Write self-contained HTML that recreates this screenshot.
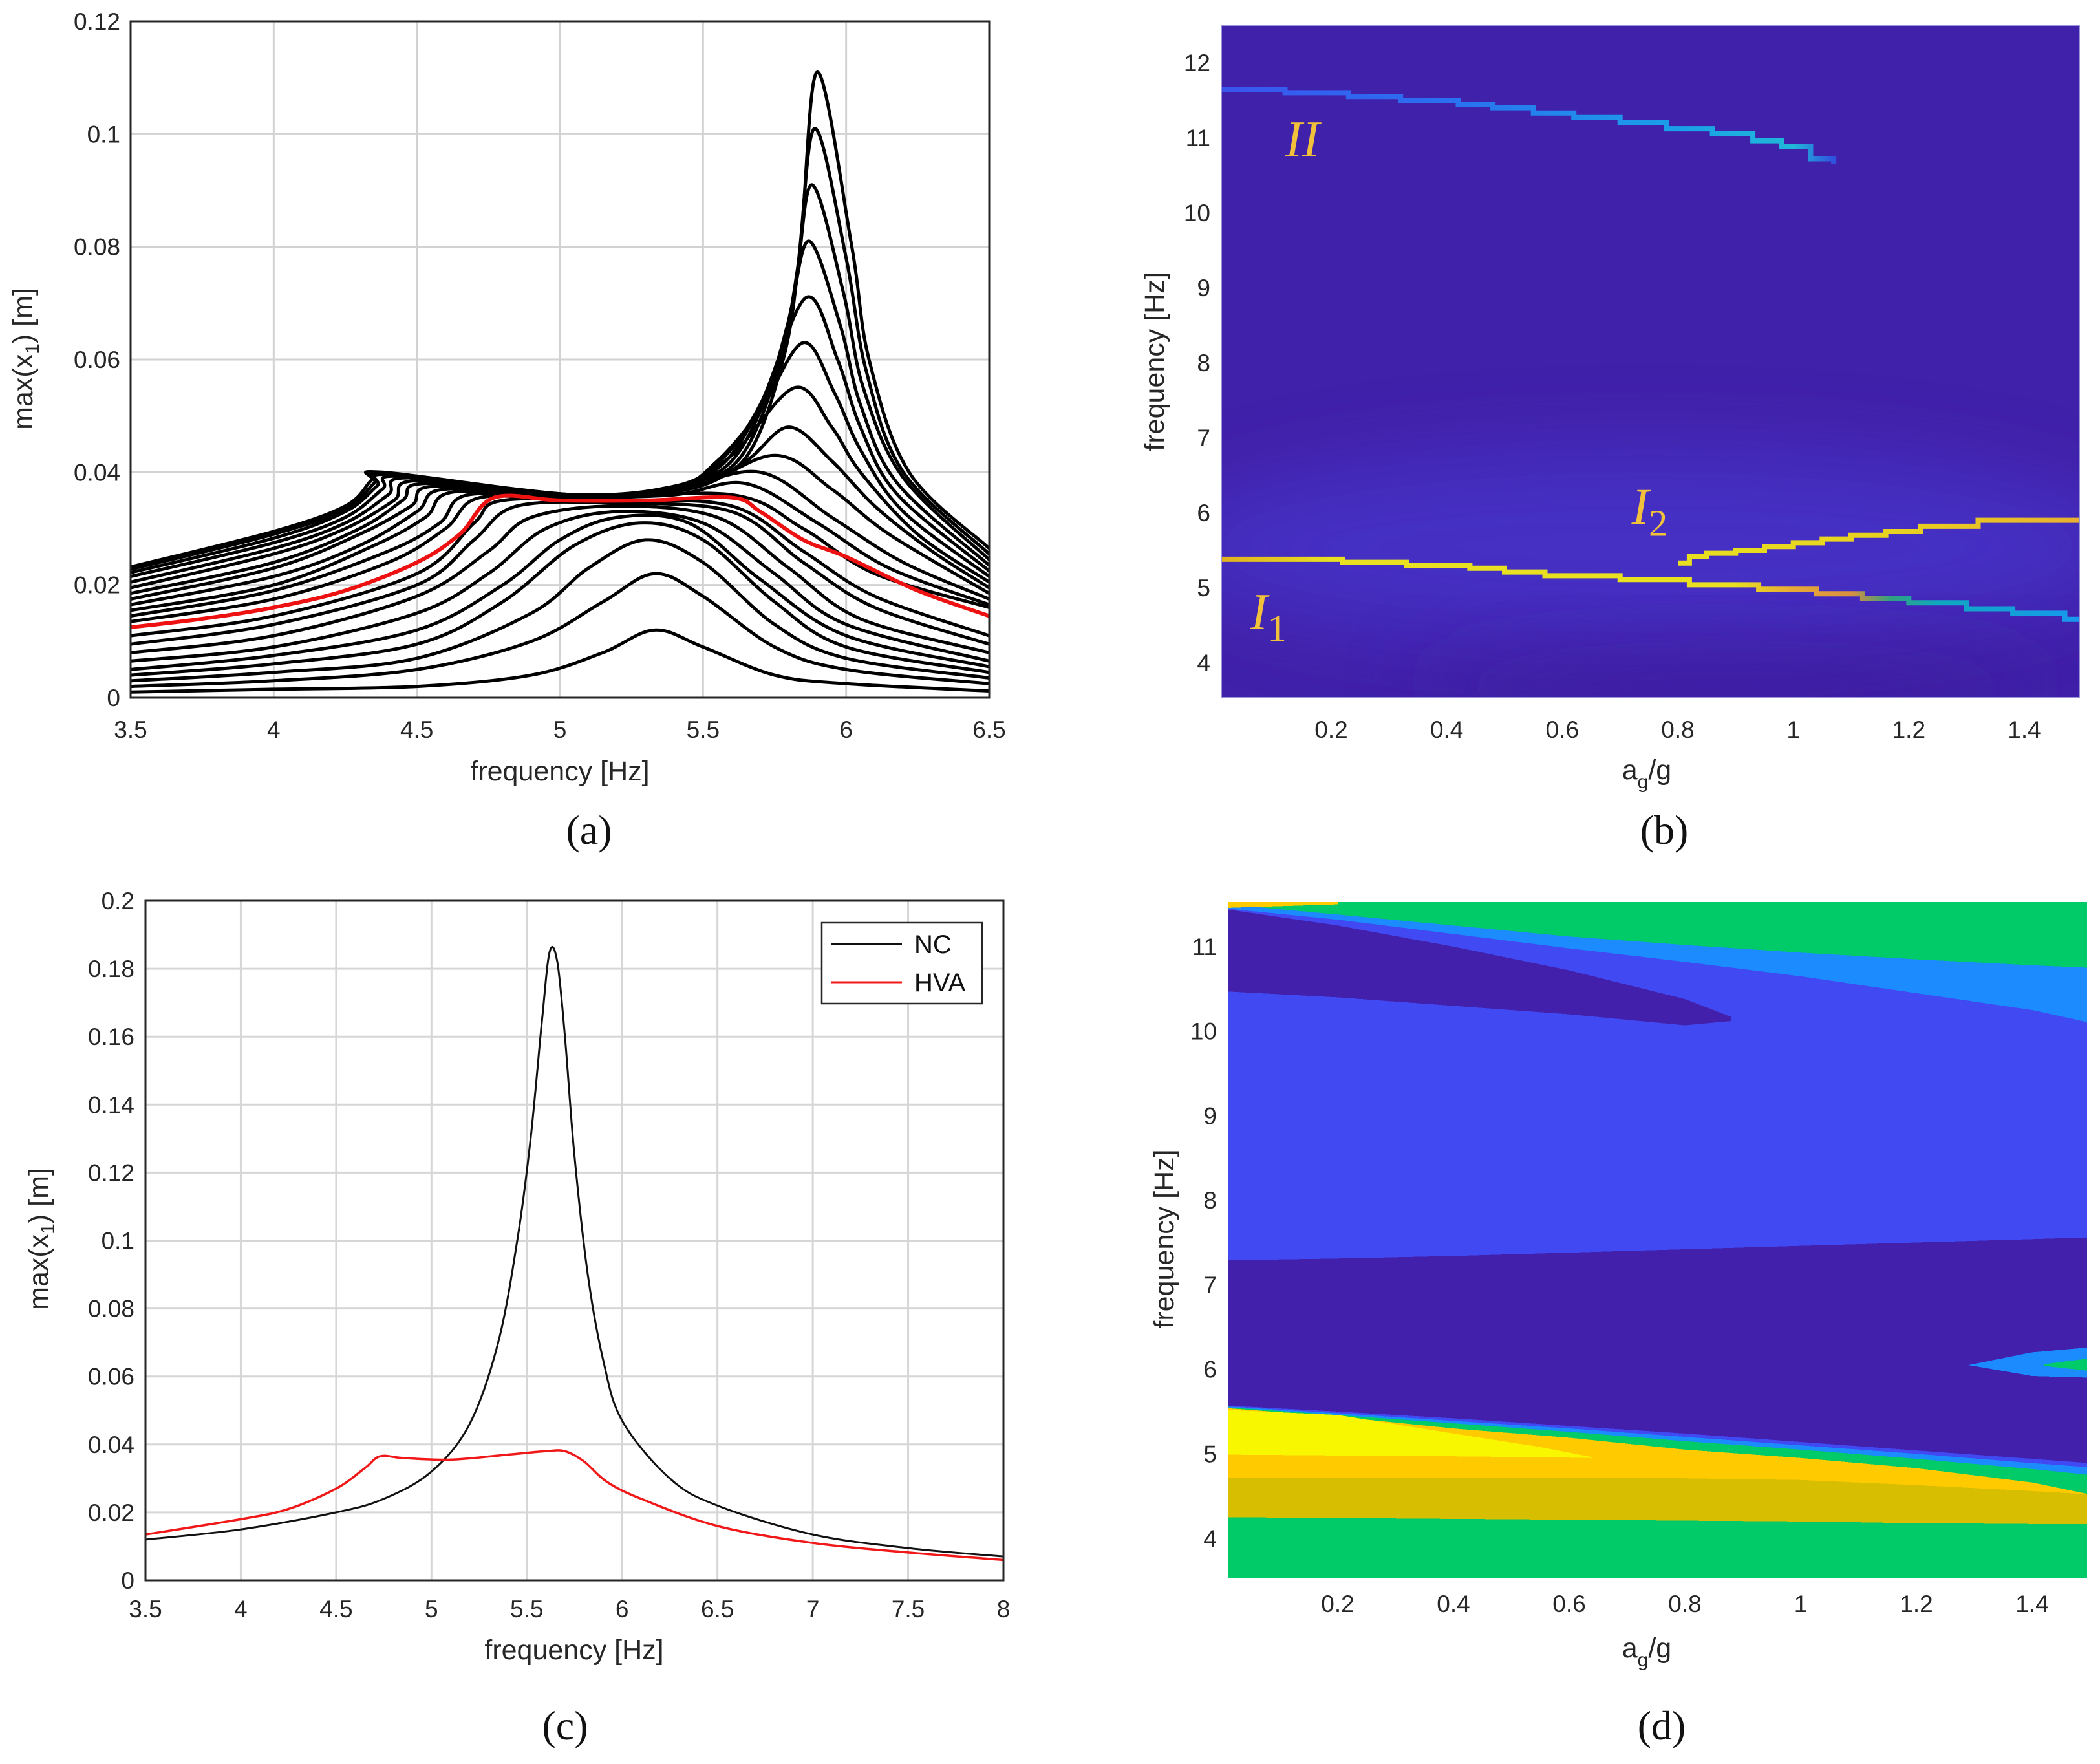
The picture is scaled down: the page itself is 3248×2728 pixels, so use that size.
<!DOCTYPE html>
<html><head><meta charset="utf-8"><style>
html,body{margin:0;padding:0;background:#fff;}
svg{display:block;font-family:"Liberation Sans",sans-serif;}
</style></head><body>
<svg id="fig" xmlns="http://www.w3.org/2000/svg" width="3248" height="2728" viewBox="0 0 3248 2728">
<defs>
<filter id="blurB" x="-50%" y="-50%" width="200%" height="200%"><feGaussianBlur stdDeviation="60"/></filter>
<clipPath id="clipA"><rect x="202" y="33" width="1328" height="1046"/></clipPath>
<clipPath id="clipB"><rect x="1889" y="39" width="1327" height="1040"/></clipPath>
<clipPath id="clipC"><rect x="225" y="1393" width="1327" height="1051"/></clipPath>
<clipPath id="clipD"><rect x="1899" y="1395" width="1329" height="1045"/></clipPath>
</defs>
<text x="911" y="1305" font-family="Liberation Serif,serif" font-size="64" text-anchor="middle" fill="#111">(a)</text>
<text x="2574" y="1305" font-family="Liberation Serif,serif" font-size="64" text-anchor="middle" fill="#111">(b)</text>
<text x="874" y="2690" font-family="Liberation Serif,serif" font-size="64" text-anchor="middle" fill="#111">(c)</text>
<text x="2570" y="2690" font-family="Liberation Serif,serif" font-size="64" text-anchor="middle" fill="#111">(d)</text>
</svg>
<script>
// ===== Panel (a) data =====
const aXTicks = [3.5,4,4.5,5,5.5,6,6.5];
const aXTickLabels = ["3.5","4","4.5","5","5.5","6","6.5"];
const aYTicks = [0,0.02,0.04,0.06,0.08,0.1,0.12];
const aYTickLabels = ["0","0.02","0.04","0.06","0.08","0.1","0.12"];
const aCurveA1 = [[3.5,.001],[4.0,.0015],[4.5,.002],[4.9,.004],[5.15,.008],[5.33,.012],[5.5,.009],[5.75,.004],[6.0,.0025],[6.5,.0012]];
const aCurveA2 = [[3.5,.002],[4,.003],[4.5,.005],[4.9,.010],[5.15,.017],[5.33,.022],[5.5,.018],[5.75,.009],[6,.005],[6.5,.0025]];
const aCurveA3 = [[3.5,.003],[4,.0045],[4.5,.007],[4.9,.015],[5.1,.023],[5.3,.028],[5.5,.024],[5.75,.013],[6,.007],[6.5,.0035]];
const aCurveA4 = [[3.5,.004],[4,.006],[4.5,.0095],[4.8,.017],[5.05,.027],[5.28,.031],[5.5,.028],[5.75,.017],[6,.009],[6.5,.0045]];
const aCurveB1 = [[3.5,.005],[4,.0075],[4.5,.012],[4.8,.020],[5.0,.028],[5.2,.032],[5.45,.031],[5.7,.021],[6,.011],[6.5,.0055]];
const aCurveB2 = [[3.5,.0065],[4,.009],[4.5,.015],[4.75,.022],[4.95,.030],[5.2,.033],[5.5,.031],[5.75,.022],[6,.013],[6.5,.0065]];
const aCurveB3 = [[3.5,.008],[4,.011],[4.5,.018],[4.75,.026],[4.9,.032],[5.2,.034],[5.55,.032],[5.8,.023],[6.05,.014],[6.5,.008]];
const aCurveB4 = [[3.5,.0095],[4,.013],[4.5,.020],[4.7,.028],[4.85,.034],[5.2,.0345],[5.6,.033],[5.85,.024],[6.1,.016],[6.5,.0095]];
const aCurveB5 = [[3.5,.011],[4,.0145],[4.5,.022],[4.7,.031],[4.8,.035],[5.2,.035],[5.6,.034],[5.85,.026],[6.1,.018],[6.5,.011]];
const aCurveC1 = [[3.5,.0135],[4,.0175],[4.4,.024],[4.6,.030],[4.72,.0355],[5.05,.0352],[5.6,.036],[5.85,.030],[6.1,.022],[6.5,.016]];
const aCurveC2 = [[3.5,.0145],[4,.019],[4.4,.026],[4.58,.031],[4.68,.036],[5.05,.0355],[5.4,.036],[5.65,.038],[5.9,.031],[6.15,.023],[6.5,.0165]];
const aCurveC3 = [[3.5,.0155],[4,.020],[4.35,.027],[4.53,.032],[4.63,.0365],[5.05,.0355],[5.4,.037],[5.7,.040],[5.95,.032],[6.2,.024],[6.5,.0175]];
const aCurveC4 = [[3.5,.0165],[4,.0215],[4.3,.027],[4.5,.033],[4.6,.037],[5.05,.0355],[5.45,.037],[5.75,.043],[5.95,.037],[6.15,.029],[6.5,.0185]];
const aCurveC5 = [[3.5,.0175],[4,.023],[4.3,.029],[4.48,.034],[4.56,.0375],[5.05,.0358],[5.45,.037],[5.65,.042],[5.8,.048],[5.95,.042],[6.1,.034],[6.3,.026],[6.5,.0195]];
const aCurveC6 = [[3.5,.0185],[4,.024],[4.3,.030],[4.45,.035],[4.53,.038],[5.05,.036],[5.4,.037],[5.6,.043],[5.82,.055],[5.95,.048],[6.05,.040],[6.25,.029],[6.5,.0205]];
const aCurveC7 = [[3.5,.0195],[4,.0255],[4.25,.030],[4.42,.035],[4.5,.0385],[5.05,.036],[5.4,.0372],[5.55,.042],[5.7,.051],[5.85,.063],[5.96,.054],[6.05,.044],[6.2,.033],[6.5,.0215]];
const aCurveC8 = [[3.5,.0205],[4,.0265],[4.25,.031],[4.4,.036],[4.47,.039],[5.05,.036],[5.4,.0375],[5.56,.042],[5.7,.052],[5.86,.071],[5.97,.060],[6.05,.048],[6.18,.036],[6.5,.0225]];
const aCurveC9 = [[3.5,.0215],[4,.0275],[4.25,.032],[4.38,.037],[4.44,.0393],[5.05,.036],[5.4,.0375],[5.58,.042],[5.72,.054],[5.8,.067],[5.87,.081],[5.98,.066],[6.05,.052],[6.18,.038],[6.5,.0235]];
const aCurveC10 = [[3.5,.0222],[4,.0283],[4.25,.033],[4.36,.0375],[4.41,.0396],[5.05,.036],[5.4,.0375],[5.6,.042],[5.74,.056],[5.82,.072],[5.88,.091],[5.99,.072],[6.06,.055],[6.2,.039],[6.5,.0245]];
const aCurveC11 = [[3.5,.0228],[4,.029],[4.25,.0335],[4.35,.038],[4.39,.0398],[5.05,.036],[5.4,.0375],[5.62,.042],[5.76,.058],[5.83,.076],[5.89,.101],[6.0,.078],[6.07,.058],[6.2,.04],[6.5,.0255]];
const aCurveC12 = [[3.5,.0232],[4,.0295],[4.25,.034],[4.34,.0385],[4.38,.040],[5.05,.036],[5.4,.0375],[5.64,.042],[5.78,.06],[5.84,.08],[5.9,.111],[6.02,.08],[6.08,.06],[6.22,.04],[6.5,.0265]];
const aRedCurve = [[3.5,.0125],[3.75,.014],[4,.016],[4.25,.019],[4.5,.024],[4.65,.029],[4.77,.0355],[5.0,.035],[5.3,.035],[5.6,.0355],[5.7,.033],[5.85,.028],[6.0,.025],[6.25,.019],[6.5,.0145]];
const aBlackCurves = [aCurveA1,aCurveA2,aCurveA3,aCurveA4,aCurveB1,aCurveB2,aCurveB3,aCurveB4,aCurveB5,aCurveC1,aCurveC2,aCurveC3,aCurveC4,aCurveC5,aCurveC6,aCurveC7,aCurveC8,aCurveC9,aCurveC10,aCurveC11,aCurveC12];

// ===== Panel (b) data =====
const bXTicks = [0.2,0.4,0.6,0.8,1.0,1.2,1.4];
const bXTickLabels = ["0.2","0.4","0.6","0.8","1","1.2","1.4"];
const bYTicks = [4,5,6,7,8,9,10,11,12];
const bYTickLabels = ["4","5","6","7","8","9","10","11","12"];
const bIIag = [0.01,0.12,0.23,0.32,0.42,0.48,0.55,0.62,0.7,0.78,0.86,0.93,0.98,1.03,1.07];
const bIIfreq = [11.64,11.6,11.55,11.5,11.44,11.4,11.33,11.27,11.2,11.12,11.06,10.96,10.88,10.72,10.65];
const bI1ag = [0.01,0.22,0.33,0.44,0.5,0.57,0.7,0.82,0.94,1.04,1.12,1.2,1.3,1.38,1.47,1.5];
const bI1freq = [5.38,5.34,5.3,5.26,5.21,5.16,5.11,5.04,4.98,4.92,4.86,4.8,4.72,4.66,4.58,4.55];
const bI2ag = [0.8,0.82,0.85,0.9,0.95,1.0,1.05,1.1,1.16,1.22,1.32,1.5];
const bI2freq = [5.33,5.42,5.46,5.5,5.55,5.6,5.65,5.7,5.75,5.82,5.9,5.9];

// ===== Panel (c) data =====
const cXTicks = [3.5,4,4.5,5,5.5,6,6.5,7,7.5,8];
const cXTickLabels = ["3.5","4","4.5","5","5.5","6","6.5","7","7.5","8"];
const cYTicks = [0,0.02,0.04,0.06,0.08,0.1,0.12,0.14,0.16,0.18,0.2];
const cYTickLabels = ["0","0.02","0.04","0.06","0.08","0.1","0.12","0.14","0.16","0.18","0.2"];
const cNCfreq = [3.5,4,4.5,4.75,5,5.2,5.35,5.45,5.52,5.58,5.62,5.66,5.7,5.75,5.82,5.9,6,6.25,6.5,7,7.5,8];
const cNCamp = [.012,.015,.020,.024,.032,.046,.07,.10,.13,.165,.185,.182,.16,.125,.09,.065,.047,.03,.022,.0135,.0095,.007];
const cHVAfreq = [3.5,4,4.25,4.5,4.65,4.73,4.85,5.1,5.4,5.6,5.7,5.8,5.92,6.1,6.5,7,7.5,8];
const cHVAamp = [.0135,.018,.021,.027,.033,.0365,.036,.0355,.037,.038,.038,.035,.029,.024,.016,.011,.0082,.006];

// ===== Panel (d) data =====
const dXTicks = [0.2,0.4,0.6,0.8,1.0,1.2,1.4];
const dXTickLabels = ["0.2","0.4","0.6","0.8","1","1.2","1.4"];
const dYTicks = [4,5,6,7,8,9,10,11];
const dYTickLabels = ["4","5","6","7","8","9","10","11"];
const dAg = [0.01,0.2,0.4,0.6,0.8,1.0,1.2,1.4,1.5];
const dUpperGreenBottom = [11.5,11.38,11.25,11.12,11.02,10.93,10.85,10.78,10.75];
const dUpperLightBlueBottom = [11.45,11.32,11.15,10.98,10.82,10.65,10.45,10.25,10.1];
const dDarkMidTop = [7.29,7.31,7.34,7.38,7.42,7.46,7.5,7.54,7.56];
const dDarkMidBottom = [5.57,5.5,5.42,5.33,5.24,5.14,5.04,4.94,4.89];
const dLightBlueTop = [5.56,5.48,5.39,5.3,5.2,5.1,5.0,4.89,4.84];
const dGreenTop = [5.55,5.46,5.36,5.26,5.15,5.05,4.94,4.82,4.75];
const dGoldTop = [5.54,5.44,5.3,5.19,5.05,4.95,4.83,4.66,4.52];
const dDarkGoldTop = [4.72,4.72,4.72,4.72,4.71,4.69,4.63,4.56,4.52];
const dLowGreenTop = [4.25,4.24,4.23,4.22,4.21,4.2,4.18,4.17,4.17];
const dWedgeAg = [0.01,0.2,0.4,0.6,0.8,0.88];
const dWedgeTop = [11.44,11.25,11.0,10.72,10.38,10.17];
const dWedgeBottom = [10.47,10.4,10.3,10.2,10.07,10.12];
const dYellowAg = [0.01,0.2,0.4,0.55,0.64];
const dYellowTop = [5.52,5.46,5.24,5.08,4.96];
const dYellowBottom = [4.99,4.98,4.97,4.96,4.95];

const NS = "http://www.w3.org/2000/svg";
const svg = document.getElementById('fig');
function mk(tag, attrs, parent){
  const e = document.createElementNS(NS, tag);
  for (const k in attrs) e.setAttribute(k, attrs[k]);
  (parent||svg).appendChild(e);
  return e;
}
function lin(d0,d1,r0,r1){ return v => r0 + (v-d0)*(r1-r0)/(d1-d0); }
function smoothPath(pts){
  let d = "M"+pts[0][0].toFixed(1)+","+pts[0][1].toFixed(1);
  for (let i=0;i<pts.length-1;i++){
    const p0 = pts[Math.max(0,i-1)], p1 = pts[i], p2 = pts[i+1], p3 = pts[Math.min(pts.length-1,i+2)];
    const c1x = p1[0]+(p2[0]-p0[0])/6, c1y = p1[1]+(p2[1]-p0[1])/6;
    const c2x = p2[0]-(p3[0]-p1[0])/6, c2y = p2[1]-(p3[1]-p1[1])/6;
    d += "C"+c1x.toFixed(1)+","+c1y.toFixed(1)+" "+c2x.toFixed(1)+","+c2y.toFixed(1)+" "+p2[0].toFixed(1)+","+p2[1].toFixed(1);
  }
  return d;
}
function txt(parent, x, y, s, size, anchor, fill){
  const t = mk('text', {x:x, y:y, 'font-size':size, 'text-anchor':anchor, fill:fill||'#262626'}, parent);
  t.textContent = s;
  return t;
}

// ---------- Panel A ----------
const ax = lin(3.5,6.5,202,1530), ay = lin(0,0.12,1079,33);
const gA = mk('g', {});


const aBg = mk('rect',{x:202,y:33,width:1328,height:1046,fill:'#fff'},gA);


aXTicks.forEach((v,i)=>{
  const l = mk('line',{x1:ax(v),x2:ax(v),y1:33,y2:1079,stroke:'#d2d2d2','stroke-width':3},gA);
  
  
  const t = txt(gA, ax(v), 1141, aXTickLabels[i], 37, 'middle');
  
  
});
aYTicks.forEach((v,i)=>{
  const l = mk('line',{x1:202,x2:1530,y1:ay(v),y2:ay(v),stroke:'#d2d2d2','stroke-width':3},gA);
  
  
  const t = txt(gA, 186, ay(v)+13, aYTickLabels[i], 37, 'end');
  
  
});
const gAc = mk('g',{'clip-path':'url(#clipA)'},gA);


aBlackCurves.forEach(c=>{
  const p = mk('path',{d:smoothPath(c.map(q=>[ax(q[0]),ay(q[1])])),fill:'none',stroke:'#000','stroke-width':5,'stroke-linejoin':'round'},gAc);
  
  
});
const aRed = mk('path',{d:smoothPath(aRedCurve.map(q=>[ax(q[0]),ay(q[1])])),fill:'none',stroke:'#ee1111','stroke-width':6,'stroke-linejoin':'round'},gAc);


const aBox = mk('rect',{x:202,y:33,width:1328,height:1046,fill:'none',stroke:'#262626','stroke-width':3},gA);


const aXl = txt(gA, 866, 1207, 'frequency [Hz]', 43, 'middle');


const aYl = mk('text',{transform:'translate(50,555) rotate(-90)','font-size':43,'text-anchor':'middle',fill:'#262626'},gA);


aYl.innerHTML = 'max(x<tspan font-size="30" dy="10">1</tspan><tspan dy="-10">) [m]</tspan>';

// ---------- Panel B ----------
const bx = lin(0.2,1.4,2059,3131), by = lin(4,12,1025,97);
const gB = mk('g',{});


const gBc = mk('g',{'clip-path':'url(#clipB)'},gB);


const bBg = mk('rect',{x:1889,y:39,width:1327,height:1040,fill:'#4021a9'},gBc);


const bGlow = mk('ellipse',{cx:bx(0.75),cy:by(5.55),rx:750,ry:150,fill:'#4735cc',opacity:0.75,filter:'url(#blurB)'},gBc);


const bDark = mk('ellipse',{cx:bx(0.9),cy:by(3.7),rx:500,ry:70,fill:'#3c1e9e',opacity:0.6,filter:'url(#blurB)'},gBc);


const grads = mk('defs',{},svg);
function mkGrad(id, stops){
  const g = mk('linearGradient',{id:id,gradientUnits:'userSpaceOnUse',x1:1889,x2:3216,y1:0,y2:0},grads);
  stops.forEach(s=>mk('stop',{offset:((bx(s[0])-1889)/1327).toFixed(3),'stop-color':s[1]},g));
}
mkGrad('gII',[[0.0,'#3a55ee'],[0.4,'#2a70f0'],[0.8,'#1aa0e8'],[1.0,'#20b8d8'],[1.07,'#3050e0']]);
mkGrad('gI1',[[0.0,'#e0b020'],[0.2,'#e8e020'],[0.9,'#e8e020'],[1.0,'#e8a838'],[1.1,'#d89040'],[1.17,'#30a080'],[1.25,'#10a8c0'],[1.5,'#1898ee']]);
mkGrad('gI2',[[0.8,'#e8e020'],[1.2,'#e8d020'],[1.5,'#e8b030']]);
function stepPath(ag, fr){
  let d = "M"+bx(ag[0]).toFixed(1)+","+by(fr[0]).toFixed(1);
  for (let i=1;i<ag.length;i++){
    d += "H"+bx(ag[i]).toFixed(1)+"V"+by(fr[i]).toFixed(1);
  }
  return d;
}
const bII = mk('path',{d:stepPath(bIIag,bIIfreq),fill:'none',stroke:'url(#gII)','stroke-width':8},gBc);


const bI1 = mk('path',{d:stepPath(bI1ag,bI1freq),fill:'none',stroke:'url(#gI1)','stroke-width':8},gBc);


const bI2 = mk('path',{d:stepPath(bI2ag,bI2freq),fill:'none',stroke:'url(#gI2)','stroke-width':8},gBc);


const lII = mk('text',{x:bx(0.12),y:by(10.75),'font-size':80,'font-family':'Liberation Serif,serif','font-style':'italic',fill:'#f2c13c'},gB);


lII.textContent = 'II';
const lI1 = mk('text',{x:bx(0.06),y:by(4.45),'font-size':80,'font-family':'Liberation Serif,serif','font-style':'italic',fill:'#f2c13c'},gB);


lI1.innerHTML = 'I<tspan font-style="normal" font-size="58" dy="18">1</tspan>';
const lI2 = mk('text',{x:bx(0.72),y:by(5.85),'font-size':80,'font-family':'Liberation Serif,serif','font-style':'italic',fill:'#f2c13c'},gB);


lI2.innerHTML = 'I<tspan font-style="normal" font-size="58" dy="18">2</tspan>';
const bBox = mk('rect',{x:1889,y:39,width:1327,height:1040,fill:'none',stroke:'#9a94d8','stroke-width':2},gB);


bXTicks.forEach((v,i)=>{
  const t = txt(gB, bx(v), 1141, bXTickLabels[i], 37, 'middle');
  
  
});
bYTicks.forEach((v,i)=>{
  const t = txt(gB, 1872, by(v)+13, bYTickLabels[i], 37, 'end');
  
  
});
const bXl = mk('text',{x:2547,y:1205,'font-size':43,'text-anchor':'middle',fill:'#262626'},gB);


bXl.innerHTML = 'a<tspan font-size="30" dy="14">g</tspan><tspan dy="-14">/g</tspan>';
const bYl = mk('text',{transform:'translate(1800,559) rotate(-90)','font-size':43,'text-anchor':'middle',fill:'#262626'},gB);


bYl.textContent = 'frequency [Hz]';

// ---------- Panel C ----------
const cx = lin(3.5,8,225,1552), cy = lin(0,0.2,2444,1393);
const gC = mk('g',{});


cXTicks.forEach((v,i)=>{
  const l = mk('line',{x1:cx(v),x2:cx(v),y1:1393,y2:2444,stroke:'#d6d6d6','stroke-width':3},gC);
  
  
  const t = txt(gC, cx(v), 2501, cXTickLabels[i], 37, 'middle');
  
  
});
cYTicks.forEach((v,i)=>{
  const l = mk('line',{x1:225,x2:1552,y1:cy(v),y2:cy(v),stroke:'#d6d6d6','stroke-width':3},gC);
  
  
  const t = txt(gC, 208, cy(v)+13, cYTickLabels[i], 37, 'end');
  
  
});
const gCc = mk('g',{'clip-path':'url(#clipC)'},gC);


const cNC = mk('path',{d:smoothPath(cNCfreq.map((f,i)=>[cx(f),cy(cNCamp[i])])),fill:'none',stroke:'#111','stroke-width':3},gCc);


const cHVA = mk('path',{d:smoothPath(cHVAfreq.map((f,i)=>[cx(f),cy(cHVAamp[i])])),fill:'none',stroke:'#f01818','stroke-width':3.5},gCc);


const cBox = mk('rect',{x:225,y:1393,width:1327,height:1051,fill:'none',stroke:'#262626','stroke-width':3},gC);


const leg = mk('g',{},gC);


const legBox = mk('rect',{x:1271,y:1427,width:248,height:125,fill:'#fff',stroke:'#262626','stroke-width':2.5},leg);


const legL1 = mk('line',{x1:1285,x2:1395,y1:1460,y2:1460,stroke:'#111','stroke-width':3},leg);


const legT1 = txt(leg, 1414, 1474, 'NC', 40, 'start', '#111');


const legL2 = mk('line',{x1:1285,x2:1395,y1:1519,y2:1519,stroke:'#f01818','stroke-width':3},leg);


const legT2 = txt(leg, 1414, 1533, 'HVA', 40, 'start', '#111');


const cXl = txt(gC, 888, 2566, 'frequency [Hz]', 43, 'middle');


const cYl = mk('text',{transform:'translate(74,1916) rotate(-90)','font-size':43,'text-anchor':'middle',fill:'#262626'},gC);


cYl.innerHTML = 'max(x<tspan font-size="30" dy="10">1</tspan><tspan dy="-10">) [m]</tspan>';

// ---------- Panel D ----------
const dx = lin(0.2,1.4,2069,3143), dy = lin(4,11,2379,1464);
const gD = mk('g',{});


const gDc = mk('g',{'clip-path':'url(#clipD)','shape-rendering':'crispEdges'},gD);


const FBOT = 3.4, FTOP = 11.7;
function belowPoly(arr, color){
  let pts = dAg.map((a,i)=>dx(a).toFixed(1)+","+dy(arr[i]).toFixed(1));
  pts.push(dx(1.6).toFixed(1)+","+dy(arr[arr.length-1]).toFixed(1));
  pts.push(dx(1.6).toFixed(1)+","+dy(FBOT).toFixed(1));
  pts.push(dx(-0.1).toFixed(1)+","+dy(FBOT).toFixed(1));
  pts.push(dx(-0.1).toFixed(1)+","+dy(arr[0]).toFixed(1));
  return mk('polygon',{points:pts.join(' '),fill:color},gDc);
}
function bandPoly(ag, top, bot, color){
  let pts = ag.map((a,i)=>dx(a).toFixed(1)+","+dy(top[i]).toFixed(1));
  for (let i=ag.length-1;i>=0;i--) pts.push(dx(ag[i]).toFixed(1)+","+dy(bot[i]).toFixed(1));
  if (ag[0] <= 0.011){ pts.push(dx(-0.1).toFixed(1)+","+dy(bot[0]).toFixed(1)); pts.push(dx(-0.1).toFixed(1)+","+dy(top[0]).toFixed(1)); }
  return mk('polygon',{points:pts.join(' '),fill:color},gDc);
}
const C_GREEN='#00cb68', C_LB='#1b8bfd', C_BLUE='#4149f2', C_DARK='#4220ab', C_GOLD='#ffcb00', C_DGOLD='#d8be00', C_YEL='#f8f700';
const dTop = mk('rect',{x:1899,y:1395,width:1329,height:1045,fill:C_GREEN},gDc);


const r1 = belowPoly(dUpperGreenBottom, C_LB);


const r2 = belowPoly(dUpperLightBlueBottom, C_BLUE);


const r3 = bandPoly(dWedgeAg, dWedgeTop, dWedgeBottom, C_DARK);


const r4 = belowPoly(dDarkMidTop, C_DARK);


const r5 = belowPoly(dDarkMidBottom, C_BLUE);


const r6 = belowPoly(dLightBlueTop, C_LB);


const r7 = belowPoly(dGreenTop, C_GREEN);


const r8 = belowPoly(dGoldTop, C_GOLD);


const r9 = bandPoly(dYellowAg, dYellowTop, dYellowBottom, C_YEL);


const r10 = belowPoly(dDarkGoldTop, C_DGOLD);


const r11 = belowPoly(dLowGreenTop, C_GREEN);


const r12 = bandPoly([0.01,0.2],[11.56,11.54],[11.46,11.5],C_GOLD);


const r13 = bandPoly([1.29,1.4,1.5,1.6],[6.05,6.2,6.26,6.26],[6.05,5.92,5.9,5.9],C_LB);


const r14 = bandPoly([1.42,1.5,1.6],[6.06,6.13,6.13],[6.04,5.98,5.98],C_GREEN);


dXTicks.forEach((v,i)=>{
  const t = txt(gD, dx(v), 2493, dXTickLabels[i], 37, 'middle');
  
  
});
dYTicks.forEach((v,i)=>{
  const t = txt(gD, 1882, dy(v)+13, dYTickLabels[i], 37, 'end');
  
  
});
const dXl = mk('text',{x:2547,y:2563,'font-size':43,'text-anchor':'middle',fill:'#262626'},gD);


dXl.innerHTML = 'a<tspan font-size="30" dy="14">g</tspan><tspan dy="-14">/g</tspan>';
const dYl = mk('text',{transform:'translate(1815,1916) rotate(-90)','font-size':43,'text-anchor':'middle',fill:'#262626'},gD);


dYl.textContent = 'frequency [Hz]';
</script>
</body></html>
